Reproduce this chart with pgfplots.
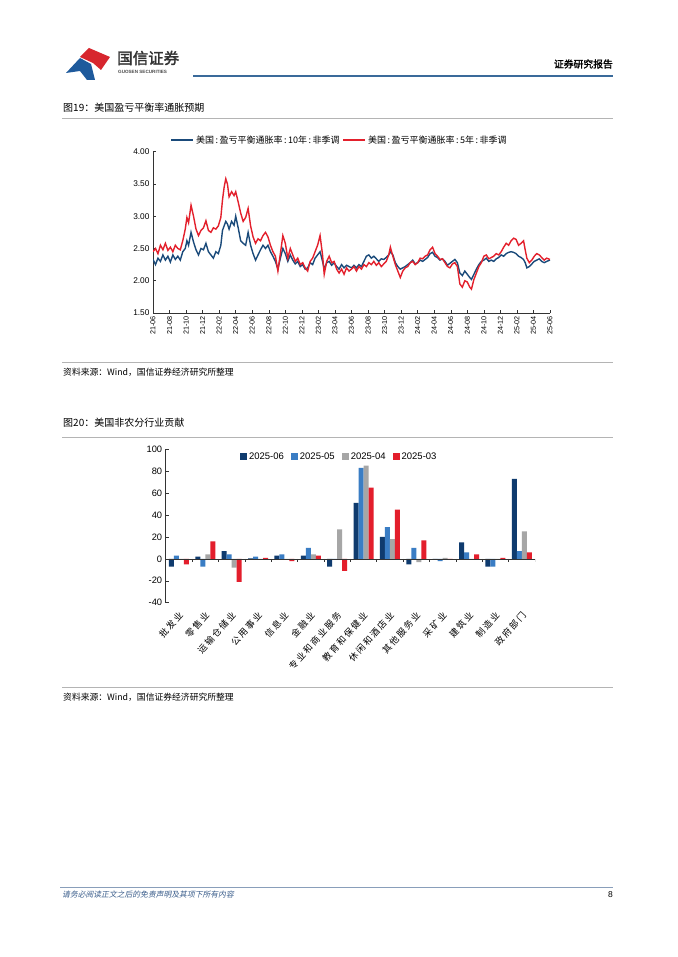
\documentclass[border=0pt]{standalone}
\usepackage{pgfplots}
\usepackage{pgfplotstable}
\pgfplotsset{compat=1.18}
\usepackage{fontspec}
\setmainfont{Liberation Sans}
\newfontfamily\cjk{Noto Sans CJK SC}
\newfontfamily\cjkls[LetterSpace=18]{Noto Sans CJK SC}
\newfontfamily\cjkb[FakeBold=2]{Noto Sans CJK SC}
\newfontfamily\cjkit[FakeSlant=0.2]{Noto Sans CJK SC}

\definecolor{tenyr}{HTML}{1A4A7A}
\definecolor{fiveyr}{HTML}{E3202C}
\definecolor{cjun}{HTML}{0F3B6E}
\definecolor{cmay}{HTML}{3A7DC4}
\definecolor{capr}{HTML}{A6A6A6}
\definecolor{cmar}{HTML}{E31E2C}
\definecolor{hdr}{HTML}{3A6A9A}
\definecolor{rule}{HTML}{B4B4B4}
\definecolor{foot}{HTML}{3B5E8C}
\definecolor{logored}{HTML}{D7262E}
\definecolor{logoblue}{HTML}{1E5A9C}

% breakeven inflation, months since 2021-06
\pgfplotstableread{
x b r
0.0 2.33 2.45
0.3 2.25 2.50
0.6 2.35 2.42
0.9 2.30 2.55
1.2 2.40 2.48
1.5 2.32 2.58
1.8 2.38 2.47
2.1 2.29 2.52
2.4 2.40 2.45
2.7 2.33 2.55
3.0 2.38 2.50
3.3 2.32 2.48
3.6 2.45 2.62
3.9 2.50 2.80
4.1 2.62 2.98
4.3 2.55 2.90
4.6 2.75 3.17
4.9 2.60 3.00
5.2 2.48 2.80
5.5 2.40 2.70
5.8 2.50 2.78
6.1 2.48 2.82
6.4 2.58 2.93
6.7 2.45 2.78
7.0 2.40 2.75
7.3 2.35 2.82
7.6 2.45 2.80
7.9 2.42 2.85
8.2 2.55 2.98
8.4 2.78 3.25
8.6 2.85 3.45
8.8 2.92 3.58
9.0 2.88 3.50
9.2 2.80 3.30
9.5 2.92 3.38
9.8 2.86 3.32
10.0 3.00 3.38
10.3 2.82 3.22
10.6 2.62 3.05
10.9 2.58 2.92
11.2 2.55 2.98
11.5 2.75 3.12
11.8 2.55 2.85
12.1 2.42 2.68
12.4 2.32 2.58
12.7 2.40 2.65
13.0 2.48 2.62
13.3 2.55 2.70
13.6 2.50 2.75
13.9 2.55 2.68
14.2 2.45 2.55
14.5 2.38 2.45
14.8 2.30 2.38
15.1 2.18 2.15
15.4 2.35 2.42
15.7 2.50 2.70
16.0 2.42 2.58
16.3 2.30 2.35
16.6 2.40 2.50
16.9 2.32 2.40
17.2 2.26 2.30
17.5 2.30 2.35
17.8 2.22 2.25
18.1 2.25 2.28
18.4 2.18 2.20
18.7 2.20 2.15
19.0 2.28 2.30
19.3 2.25 2.35
19.6 2.35 2.45
19.9 2.40 2.55
20.2 2.45 2.70
20.5 2.30 2.40
20.7 2.18 2.10
21.0 2.28 2.30
21.3 2.30 2.38
21.6 2.24 2.28
21.9 2.28 2.30
22.2 2.22 2.18
22.5 2.18 2.12
22.8 2.25 2.18
23.1 2.20 2.10
23.4 2.24 2.20
23.7 2.22 2.15
24.0 2.20 2.18
24.3 2.24 2.22
24.6 2.20 2.15
24.9 2.25 2.22
25.2 2.22 2.18
25.5 2.30 2.25
25.8 2.38 2.22
26.1 2.40 2.28
26.4 2.35 2.25
26.7 2.38 2.30
27.0 2.34 2.24
27.3 2.30 2.28
27.6 2.34 2.22
27.9 2.33 2.26
28.2 2.36 2.30
28.5 2.40 2.40
28.7 2.45 2.52
29.0 2.40 2.38
29.3 2.28 2.25
29.6 2.22 2.15
29.9 2.18 2.05
30.2 2.20 2.15
30.5 2.22 2.20
30.8 2.25 2.22
31.1 2.28 2.28
31.4 2.32 2.30
31.7 2.26 2.25
32.0 2.28 2.28
32.3 2.32 2.35
32.6 2.30 2.34
32.9 2.33 2.38
33.2 2.36 2.40
33.5 2.42 2.48
33.8 2.44 2.52
34.1 2.38 2.42
34.4 2.36 2.38
34.7 2.32 2.33
35.0 2.34 2.34
35.3 2.30 2.28
35.6 2.24 2.22
35.9 2.27 2.20
36.2 2.30 2.26
36.5 2.33 2.28
36.8 2.28 2.22
37.1 2.12 1.95
37.4 2.08 1.90
37.7 2.15 2.00
38.0 2.10 1.98
38.3 2.05 1.90
38.5 2.02 1.87
38.8 2.10 2.02
39.1 2.18 2.12
39.4 2.25 2.22
39.7 2.30 2.28
40.0 2.32 2.38
40.3 2.35 2.40
40.6 2.30 2.34
40.9 2.32 2.36
41.2 2.30 2.38
41.5 2.34 2.42
41.8 2.36 2.40
42.1 2.40 2.45
42.4 2.38 2.52
42.7 2.42 2.58
43.0 2.44 2.55
43.3 2.45 2.62
43.6 2.44 2.66
43.9 2.42 2.64
44.2 2.38 2.55
44.5 2.36 2.58
44.8 2.33 2.62
45.0 2.28 2.48
45.2 2.20 2.35
45.5 2.22 2.28
45.8 2.26 2.32
46.1 2.30 2.38
46.4 2.32 2.42
46.7 2.34 2.40
47.0 2.30 2.36
47.3 2.28 2.32
47.6 2.30 2.35
48.0 2.32 2.33
}\bei

% nonfarm payroll contribution by sector
\pgfplotstableread{
i jun may apr mar
0 -7 3 -0.5 -5
1 2 -7 4 16
2 7 4 -8 -21
3 0.5 2 -1 1
4 3 4 0 -2
5 3 10 4 3
6 -7 0 27 -11
7 51 83 85 65
8 20 29 18 45
9 -5 10 -3 17
10 -1 -2 1 -1
11 15 6 0 4
12 -7 -7 0 1
13 73 7 25 6
}\nfp

\begin{document}
\begin{tikzpicture}[x=1pt,y=-1pt]
\fill[white] (0,0) rectangle (677,957);
\useasboundingbox (0,0) rectangle (677,957);

% header
\fill[logoblue] (66,73) -- (80,58) -- (91,64) -- (95,80) -- (87,80) -- (80,71) -- cycle;
\fill[logored] (80,57) -- (89,48) -- (110,57) -- (101,70) -- (93,63) -- cycle;
\node[anchor=west,inner sep=0] at (117,58) {\cjkb\fontsize{15.5}{15.5}\selectfont\color{black!80} 国信证券};
\node[anchor=west,inner sep=0] at (118,72) {\fontsize{4.6}{5}\selectfont\bfseries\color{black!70} GUOSEN SECURITIES};
\node[anchor=east,inner sep=0] at (613,64) {\cjkb\fontsize{9.8}{10}\selectfont 证券研究报告};
\draw[hdr,line width=1.8pt] (193,76) -- (613,76);

% figure 19 frame
\node[anchor=west,inner sep=0] at (63,108) {\cjk\fontsize{10}{10}\selectfont 图19：美国盈亏平衡率通胀预期};
\draw[rule,line width=0.8pt] (62,118) -- (613,118);
\draw[rule,line width=0.8pt] (62,362) -- (613,362);
\node[anchor=west,inner sep=0] at (63,372) {\cjk\fontsize{8.8}{9}\selectfont 资料来源：Wind，国信证券经济研究所整理};

% figure 20 frame
\node[anchor=west,inner sep=0] at (63,423) {\cjk\fontsize{10}{10}\selectfont 图20：美国非农分行业贡献};
\draw[rule,line width=0.8pt] (62,437) -- (613,437);
\draw[rule,line width=0.8pt] (62,687) -- (613,687);
\node[anchor=west,inner sep=0] at (63,697) {\cjk\fontsize{8.8}{9}\selectfont 资料来源：Wind，国信证券经济研究所整理};

% footer
\draw[foot!60,line width=0.6pt] (60,887) -- (613,887);
\node[anchor=west,inner sep=0] at (62,895) {\cjkit\fontsize{7.8}{8}\selectfont\color{foot} 请务必阅读正文之后的免责声明及其项下所有内容};
\node[anchor=east,inner sep=0] at (613,895) {\fontsize{8.5}{8.5}\selectfont 8};

\begin{axis}[
    at={(153pt,-313pt)}, anchor=south west,
    scale only axis, width=397pt, height=161.3pt,
    xmin=0, xmax=48, ymin=1.5, ymax=4,
    axis x line*=bottom, axis y line*=left,
    axis line style={-,black!80,line width=0.6pt},
    tick align=inside, major tick length=3pt,
    tick style={black!80,line width=0.5pt},
    ytick={1.5,2,2.5,3,3.5,4},
    yticklabels={1.50,2.00,2.50,3.00,3.50,4.00},
    yticklabel style={font=\fontsize{8.3}{8.5}\selectfont},
    xtick={0,2,...,48},
    xticklabels={21-06,21-08,21-10,21-12,22-02,22-04,22-06,22-08,22-10,22-12,23-02,23-04,23-06,23-08,23-10,23-12,24-02,24-04,24-06,24-08,24-10,24-12,25-02,25-04,25-06},
    xticklabel style={rotate=90,anchor=east,font=\fontsize{7.2}{7.2}\selectfont},
    legend style={at={(0.47,1)},anchor=south,yshift=3pt,draw=none,fill=none,
        legend columns=2,font=\cjk\fontsize{9}{9}\selectfont,
        /tikz/every even column/.append style={column sep=1pt}},
    legend image code/.code={\draw[#1,line width=1.5pt] (0pt,0pt) -- (22pt,0pt);},
  ]
  \addplot[tenyr,line width=1.4pt] table[x=x,y=b] {\bei};
  \addplot[fiveyr,line width=1.4pt] table[x=x,y=r] {\bei};
  \legend{美国\,:\,盈亏平衡通胀率\,:\,10年\,:\,非季调,美国\,:\,盈亏平衡通胀率\,:\,5年\,:\,非季调}
\end{axis}

\begin{axis}[
    at={(165.7pt,-602.7pt)}, anchor=south west,
    scale only axis, width=369.3pt, height=153.4pt,
    xmin=-0.5, xmax=13.5, ymin=-40, ymax=100,
    axis x line*=bottom, axis y line*=left,
    x axis line style={draw=none},
    y axis line style={-,black!80,line width=0.6pt},
    tick align=inside, major tick length=3pt,
    tick style={black!80,line width=0.5pt},
    major x tick style={draw=none},
    ytick={-40,-20,0,20,40,60,80,100},
    yticklabels={-40,-20,0,20,40,60,80,100},
    yticklabel style={font=\fontsize{9.3}{9.5}\selectfont},
    xtick={0,...,13},
    xticklabels={批发业,零售业,运输仓储业,公用事业,信息业,金融业,专业和商业服务,教育和保健业,休闲和酒店业,其他服务业,采矿业,建筑业,制造业,政府部门},
    xticklabel style={rotate=48,anchor=east,xshift=-1pt,yshift=-7pt,font=\cjkls\fontsize{9}{9}\selectfont},
    ybar=0pt, bar width=5pt,
    legend style={at={(0.47,1)},anchor=north,yshift=1pt,draw=none,fill=none,
        legend columns=4,font=\fontsize{9.5}{9.5}\selectfont,
        /tikz/every even column/.append style={column sep=5pt}},
    legend image code/.code={\fill[#1] (0pt,-3.5pt) rectangle (7pt,3.5pt);},
  ]
  \addplot[fill=cjun,draw=none] table[x=i,y=jun] {\nfp};
  \addplot[fill=cmay,draw=none] table[x=i,y=may] {\nfp};
  \addplot[fill=capr,draw=none] table[x=i,y=apr] {\nfp};
  \addplot[fill=cmar,draw=none] table[x=i,y=mar] {\nfp};
  \legend{2025-06,2025-05,2025-04,2025-03}
  \draw[black!80,line width=0.6pt] (axis cs:-0.5,0) -- (axis cs:13.5,0);
  \pgfplotsinvokeforeach{0,...,14}{\draw[black!80,line width=0.5pt] (axis cs:#1-0.5,0) -- ++(0pt,-3pt);}
\end{axis}
\end{tikzpicture}
\end{document}
